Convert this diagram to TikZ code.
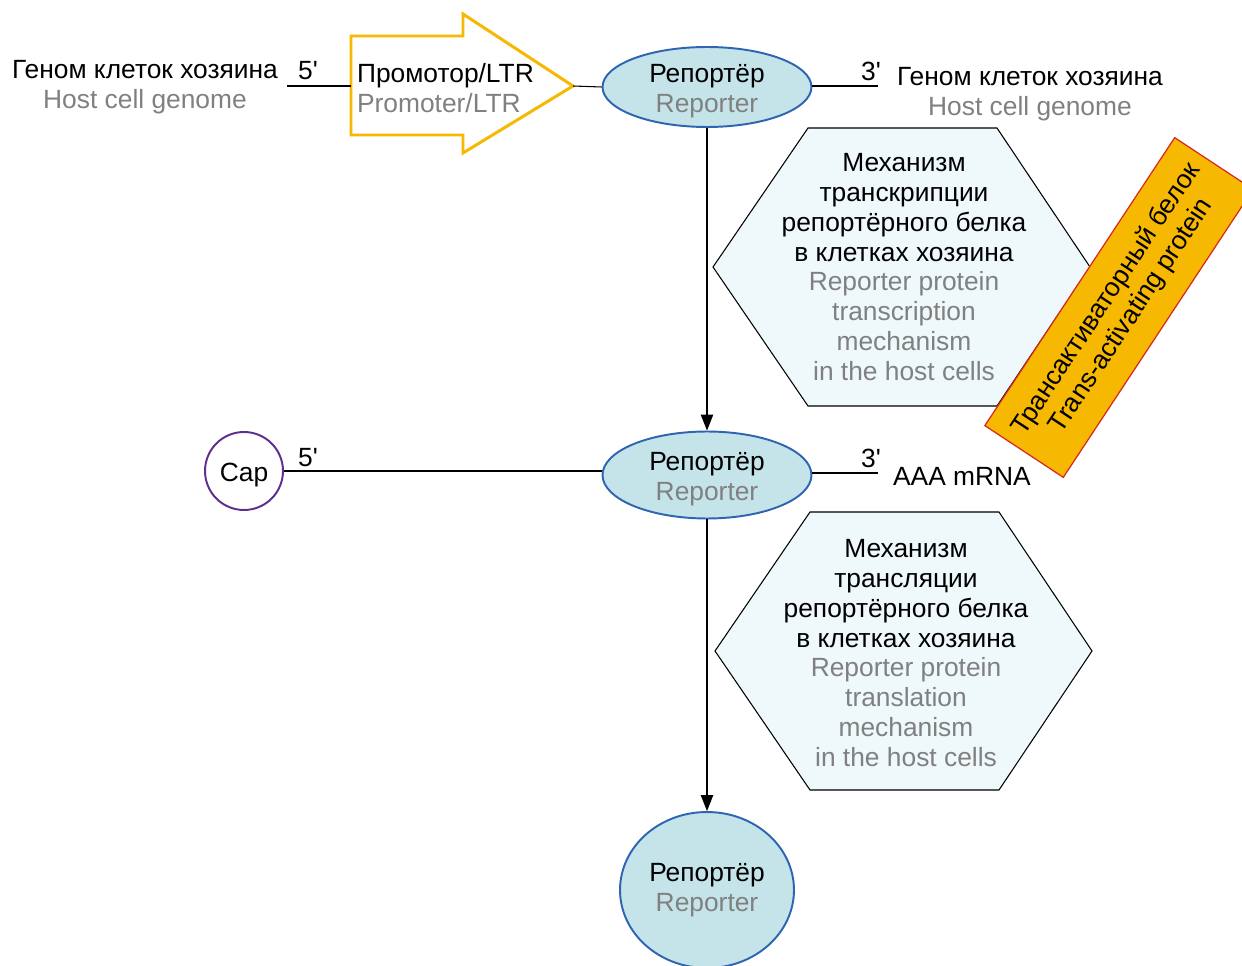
\documentclass[tikz,border=0pt]{standalone}
\usepackage{fontspec}
\setmainfont{Liberation Sans}
\usetikzlibrary{shapes.geometric,arrows.meta}

\definecolor{repfill}{RGB}{196,228,234}
\definecolor{repblue}{RGB}{46,100,176}
\definecolor{hexfill}{RGB}{239,248,251}
\definecolor{promgold}{RGB}{246,184,0}
\definecolor{tatred}{RGB}{214,40,30}
\definecolor{capviolet}{RGB}{92,46,142}
\definecolor{engray}{RGB}{128,128,128}

\newcommand{\ruen}[2]{#1\\\textcolor{engray}{#2}}
\newcommand{\en}[1]{\textcolor{engray}{#1}}
\newcommand{\strandend}{\textquotesingle}
\newcommand{\lowstrut}{\rule{0pt}{15.5pt}}

\begin{document}
\begin{tikzpicture}[x=0.02cm, y=-0.02cm, font=\fontsize{15}{17}\selectfont,
    reporter/.style={ellipse, draw=repblue, line width=1.1pt, fill=repfill,
        inner sep=-6pt, align=center},
    hexa/.style={draw=black, line width=0.6pt, fill=hexfill},
    plain/.style={inner sep=1pt, align=center},
    strand/.style={line width=0.6pt},
    flow/.style={line width=0.6pt, -{Triangle[length=9pt,width=7pt]}}]
    \useasboundingbox (0,0) rectangle (1242,966);

    % Геномная ДНК с промотором
    \node[plain] (hostL) at (145,87) {\ruen{Геном клеток хозяина}{Host cell genome}};
    \coordinate (g5) at (287,86);
    \coordinate (promtail) at (351,86);
    \coordinate (promtip) at (573,86);
    \draw[promgold, line width=1.7pt, fill=white, line join=miter]
        (351,36) -- (463,36) -- (463,14) -- (promtip) -- (463,153)
        -- (463,135) -- (351,135) -- cycle;
    \node[plain, anchor=west, align=left] (prom) at (355,88)
        {\ruen{Промотор/LTR}{Promoter/LTR}};
    \node[reporter, minimum width=4.18cm, minimum height=1.6cm] (rep1) at (707,87)
        {\ruen{\lowstrut Репортёр}{Reporter}};
    \coordinate (g3) at (878,86);
    \node[plain] (hostR) at (1030,94) {\ruen{Геном клеток хозяина}{Host cell genome}};
    \node[plain] (p5) at (308,71) {5\strandend};
    \node[plain] (p3) at (871,71) {3\strandend};
    \draw[strand] (g5) -- (promtail);
    \draw[strand] (promtip) -- (rep1.west);
    \draw[strand] (rep1.east |- g3) -- (g3);

    % Транскрипция
    \draw[hexa] (808,128) -- (997,128) -- (1090,267) -- (997,406) -- (808,406)
        -- (713,267) -- cycle;
    \node[plain] (trx) at (904,267) {Механизм\\транскрипции\\репортёрного белка\\
        в клетках хозяина\\\en{Reporter protein}\\\en{transcription}\\\en{mechanism}\\
        \en{in the host cells}};
    \node[draw=tatred, line width=0.7pt, fill=promgold, rotate=56.6,
        minimum width=6.9cm, minimum height=1.88cm, align=center, inner sep=1pt]
        (tat) at (1119,307.5) {Трансактиваторный белок\\Trans-activating protein};

    % мРНК
    \node[circle, draw=capviolet, line width=1.1pt, minimum size=1.56cm,
        inner sep=0pt] (cap) at (244,471) {\lowstrut Cap};
    \node[reporter, minimum width=4.18cm, minimum height=1.74cm] (rep2) at (707,475)
        {\ruen{\lowstrut Репортёр}{Reporter}};
    \coordinate (m3) at (878,473);
    \node[plain] (c5) at (308,458) {5\strandend};
    \node[plain] (c3) at (871,458) {3\strandend};
    \node[plain, anchor=west] (polyA) at (891,476) {AAA mRNA};
    \draw[strand] (cap.east) -- (rep2.west |- cap.east);
    \draw[strand] (rep2.east |- m3) -- (m3);
    \draw[flow] (rep1.south) -- (rep2.north);

    % Трансляция
    \draw[hexa] (810,512) -- (999,512) -- (1092,651) -- (999,790) -- (810,790)
        -- (715,651) -- cycle;
    \node[plain] (trl) at (906,653) {Механизм\\трансляции\\репортёрного белка\\
        в клетках хозяина\\\en{Reporter protein}\\\en{translation}\\\en{mechanism}\\
        \en{in the host cells}};

    % Белок
    \node[reporter, minimum width=3.48cm, minimum height=3.12cm] (rep3) at (707,890)
        {\ruen{Репортёр}{Reporter}};
    \draw[flow] (rep2.south) -- (rep3.north);
\end{tikzpicture}
\end{document}
